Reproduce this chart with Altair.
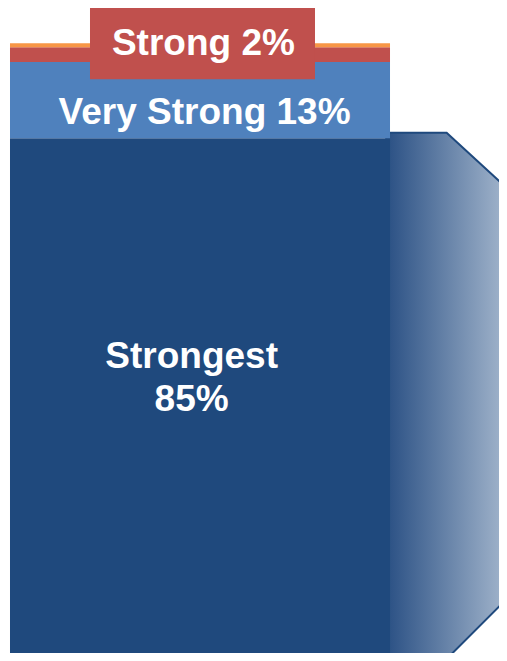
import altair as alt
import pandas as pd

# ---- data ----
categories = ["Strongest", "Very Strong", "Strong", "Other"]
shares = [85.0, 12.4, 2.4, 0.65]          # stacked segment heights (%)
seg_colors = ["#1f497d", "#4f81bd", "#c0504d", "#f79646"]

label_lines = [["Strongest", "85%"], ["Very Strong 13%"], ["Strong 2%"]]

# decorative arrow-like shape to the right of the bar (x in bar-width units, y in %)
shape_x = [99.0, 114.9, 131.5]
shape_top = [85.9, 85.9, 76.5]
shape_bottom = [0.33, 0.33, 10.6]

# ---- layout (data units: bar spans x 0..100, y in percent) ----
X_DOMAIN = [-0.526, 128.68]
Y_DOMAIN = [1.3, 106.2]
label_x = [47.8, 51.2, 50.9]
label_y = [47.6, 87.4, 98.5]
box = dict(x=21.05, x2=80.26, y=94.6, y2=106.5)

rows = []
base = 0.0
for i, (c, s, col) in enumerate(zip(categories, shares, seg_colors)):
    rows.append(dict(cat=c, x=0, x2=100, y0=base, y1=base + s, color=col, order=i))
    base += s
bars_df = pd.DataFrame(rows)

shape_df = pd.DataFrame(dict(x=shape_x, top=shape_top, bottom=shape_bottom))
labels_df = pd.DataFrame(dict(text=label_lines, x=label_x, y=label_y))
box_df = pd.DataFrame([box])

xs = alt.Scale(domain=X_DOMAIN, nice=False, zero=False)
ys = alt.Scale(domain=Y_DOMAIN, nice=False, zero=False)

shape = alt.Chart(shape_df).mark_area(
    fill=alt.Gradient(
        gradient="linear",
        stops=[alt.GradientStop(color="#2a5084", offset=0),
               alt.GradientStop(color="#a6b8ce", offset=1)],
        x1=0, x2=1, y1=0, y2=0),
    stroke="#1f497d", strokeWidth=2, interpolate="linear",
).encode(
    x=alt.X("x:Q", scale=xs, axis=None),
    y=alt.Y("top:Q", scale=ys, axis=None),
    y2="bottom:Q",
)

bars = alt.Chart(bars_df).mark_rect().encode(
    x=alt.X("x:Q", scale=xs, axis=None),
    x2="x2:Q",
    y=alt.Y("y0:Q", scale=ys, axis=None),
    y2="y1:Q",
    color=alt.Color("color:N", scale=None, legend=None),
)

red_box = alt.Chart(box_df).mark_rect(color="#c0504d").encode(
    x=alt.X("x:Q", scale=xs, axis=None),
    x2="x2:Q",
    y=alt.Y("y:Q", scale=ys, axis=None),
    y2="y2:Q",
)

texts = alt.Chart(labels_df).mark_text(
    font="Liberation Sans", fontWeight="bold", fontSize=37, color="white",
    align="center", baseline="alphabetic", lineHeight=43,
).encode(
    x=alt.X("x:Q", scale=xs, axis=None),
    y=alt.Y("y:Q", scale=ys, axis=None),
    text="text",
)

chart = alt.layer(shape, bars, red_box, texts).properties(
    width=491, height=645,
    autosize=alt.AutoSizeParams(type="none"),
    padding=0,
).configure_view(stroke=None)

chart.save("out.html", embed_options={"renderer": "svg", "actions": False})
